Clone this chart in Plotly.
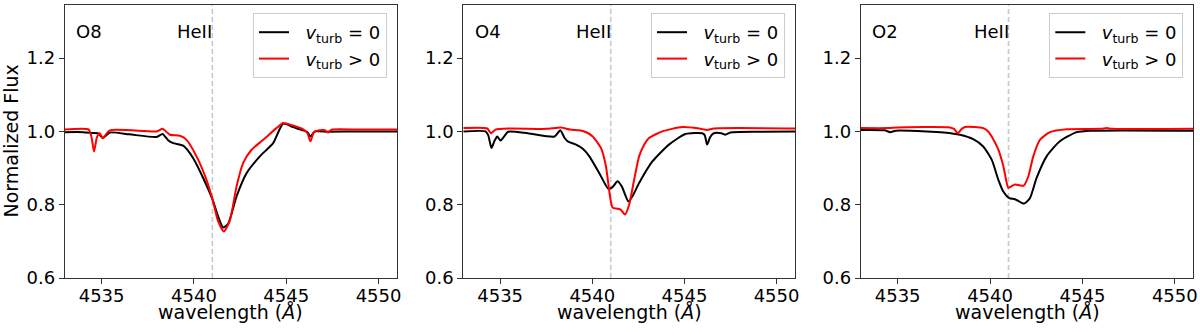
import plotly.graph_objects as go
from plotly.subplots import make_subplots

# wavelength grids (Angstrom) and normalized flux
o8_wave_0 = [4533.0, 4534.0, 4534.5, 4534.8, 4535.06, 4535.45, 4536.5, 4537.98, 4538.3,
             4538.6, 4538.88, 4539.42, 4539.96, 4540.5, 4541.01, 4541.31, 4541.58, 4541.85,
             4542.31, 4542.85, 4543.57, 4544.29, 4544.83, 4545.37, 4545.91, 4546.15,
             4546.31, 4546.55, 4547.3, 4549.0, 4551.0]
o8_flux_0 = [0.998, 0.998, 0.996, 0.995, 0.982, 0.997, 0.992, 0.985, 0.993,
             0.976, 0.968, 0.961, 0.927, 0.873, 0.814, 0.768, 0.738, 0.748,
             0.823, 0.886, 0.932, 0.968, 1.021, 1.012, 1.003, 0.998,
             0.986, 1.000, 0.999, 1.000, 1.000]
o8_wave_1 = [4533.0, 4534.3, 4534.45, 4534.59, 4534.75, 4534.9, 4535.06, 4535.45, 4537.98,
             4538.3, 4538.7, 4539.24, 4539.6, 4540.14, 4540.68, 4541.01, 4541.31, 4541.62,
             4541.94, 4542.31, 4542.67, 4543.12, 4543.75, 4544.47, 4544.83, 4545.37,
             4545.9, 4546.15, 4546.31, 4546.5, 4546.8, 4547.1, 4547.27, 4547.45, 4549.0,
             4551.0]
o8_flux_1 = [1.005, 1.005, 0.985, 0.945, 0.985, 0.995, 0.982, 1.003, 1.000,
             1.007, 0.991, 0.988, 0.977, 0.932, 0.868, 0.814, 0.755, 0.727,
             0.756, 0.850, 0.914, 0.950, 0.977, 1.009, 1.023, 1.016,
             1.006, 0.995, 0.973, 0.998, 1.003, 1.003, 0.997, 1.005, 1.005,
             1.005]

o4_wave_0 = [4533.0, 4534.2, 4534.35, 4534.53, 4534.7, 4534.84, 4535.02, 4535.2, 4535.43,
             4536.5, 4537.95, 4538.26, 4538.5, 4538.67, 4539.12, 4539.5, 4539.84, 4540.38,
             4540.88, 4541.1, 4541.37, 4541.6, 4541.96, 4542.2, 4542.54, 4543.26, 4544.16,
             4545.06, 4545.96, 4546.1, 4546.23, 4546.4, 4546.59, 4547.0, 4547.22, 4547.5,
             4549.0, 4551.0]
o4_flux_0 = [1.000, 1.000, 0.990, 0.955, 0.975, 0.986, 0.975, 0.985, 0.999,
             0.995, 0.986, 1.003, 0.982, 0.973, 0.964, 0.952, 0.932, 0.886,
             0.843, 0.848, 0.864, 0.850, 0.809, 0.825, 0.859, 0.918, 0.964,
             0.993, 0.995, 0.990, 0.964, 0.985, 0.995, 0.995, 0.991, 0.997,
             0.999, 1.000]
o4_wave_1 = [4533.0, 4534.3, 4534.5, 4534.75, 4535.5, 4537.5, 4538.3, 4538.8, 4539.3,
             4539.7, 4540.02, 4540.3, 4540.47, 4540.74, 4540.96, 4541.1, 4541.37, 4541.55,
             4541.77, 4542.0, 4542.27, 4542.54, 4542.8, 4543.08, 4543.8, 4544.88, 4545.8,
             4546.23, 4546.6, 4551.0]
o4_flux_1 = [1.009, 1.008, 0.995, 1.005, 1.008, 1.007, 1.011, 1.005, 1.003,
             0.997, 0.986, 0.968, 0.955, 0.905, 0.823, 0.792, 0.789, 0.786,
             0.773, 0.800, 0.868, 0.932, 0.962, 0.982, 1.000, 1.012, 1.008,
             1.004, 1.008, 1.008]

o2_wave_0 = [4533.0, 4534.3, 4534.59, 4534.9, 4536.57, 4537.5, 4538.37, 4539.09, 4539.63,
             4540.09, 4540.45, 4540.72, 4541.04, 4541.35, 4541.84, 4542.16, 4542.52, 4543.06,
             4543.78, 4544.69, 4545.5, 4551.0]
o2_flux_0 = [1.004, 1.003, 0.998, 1.002, 1.000, 0.997, 0.991, 0.979, 0.959,
             0.923, 0.868, 0.836, 0.818, 0.815, 0.803, 0.818, 0.873, 0.932,
             0.973, 0.998, 1.002, 1.002]
o2_wave_1 = [4533.0, 4534.5, 4535.0, 4537.83, 4538.05, 4538.25, 4538.45, 4538.64, 4539.63,
             4539.9, 4540.09, 4540.45, 4540.72, 4540.99, 4541.15, 4541.35, 4541.6, 4541.82,
             4542.07, 4542.34, 4542.7, 4543.24, 4544.15, 4546.0, 4546.31, 4546.6, 4551.0]
o2_flux_1 = [1.009, 1.009, 1.011, 1.011, 1.007, 0.995, 1.006, 1.012, 1.009,
             1.000, 0.986, 0.950, 0.905, 0.846, 0.850, 0.855, 0.853, 0.852,
             0.877, 0.932, 0.977, 0.998, 1.006, 1.007, 1.009, 1.007, 1.007]

panels = [
    ("O8", (o8_wave_0, o8_flux_0), (o8_wave_1, o8_flux_1)),
    ("O4", (o4_wave_0, o4_flux_0), (o4_wave_1, o4_flux_1)),
    ("O2", (o2_wave_0, o2_flux_0), (o2_wave_1, o2_flux_1)),
]
series_names = ["&nbsp;&nbsp;<i>v</i><sub>turb</sub> = 0", "&nbsp;&nbsp;<i>v</i><sub>turb</sub> > 0"]
series_colors = ["black", "red"]
x_ticks = [4535, 4540, 4545, 4550]
y_ticks = [0.6, 0.8, 1.0, 1.2]
heii_line = 4541.0
line_label = "HeII"

W, H = 1200, 336
FONT = "DejaVu Sans"
FS = 18

x_px = [(64.7, 397.0), (463.3, 795.0), (860.7, 1193.3)]
y_px = (5.0, 278.0)

fig = make_subplots(rows=1, cols=3)

for i, (label, *curves) in enumerate(panels):
    legend_id = "legend" if i == 0 else f"legend{i + 1}"
    for (wave, flux), name, color in zip(curves, series_names, series_colors):
        fig.add_trace(
            go.Scatter(x=wave, y=flux, mode="lines", name=name,
                       line=dict(color=color, width=2, shape="spline", smoothing=0.6),
                       legend=legend_id),
            row=1, col=i + 1,
        )
    x0, x1 = x_px[i]
    ax = "" if i == 0 else str(i + 1)
    fig.update_xaxes(domain=[x0 / W, x1 / W], range=[4533, 4551], tickvals=x_ticks,
                     row=1, col=i + 1)
    fig.update_yaxes(range=[0.6, 1.345], tickvals=y_ticks, tickformat=".1f", row=1, col=i + 1)
    fig.add_shape(type="line", xref=f"x{ax}", yref=f"y{ax} domain", x0=heii_line, x1=heii_line,
                  y0=0, y1=1, line=dict(color="#c8c8c8", width=1.6, dash="5px,3px"), layer="below")
    fig.add_annotation(xref=f"x{ax}", yref=f"y{ax}", x=4533.5, y=1.25, text=label,
                       xanchor="left", yanchor="bottom", showarrow=False, yshift=-4)
    fig.add_annotation(xref=f"x{ax}", yref=f"y{ax}", x=4539.0, y=1.25, text=line_label,
                       xanchor="left", yanchor="bottom", showarrow=False, yshift=-4)
    fig.add_annotation(xref="paper", yref="paper", x=(x0 + x1) / 2 / W, y=1 - 312 / H,
                       text="wavelength (<i>Å</i>)", xanchor="center", yanchor="middle",
                       showarrow=False, font=dict(size=19))
    fig.update_layout({legend_id: dict(
        x=(x1 - 10) / W, y=1 - 13 / H, xanchor="right", yanchor="top",
        bordercolor="#cccccc", borderwidth=1, bgcolor="rgba(255,255,255,0.8)",
        font=dict(family=FONT, size=FS, color="black"),
    )})

fig.add_annotation(xref="paper", yref="paper", x=11 / W, y=1 - 141.5 / H,
                   text="Normalized Flux", textangle=-90, xanchor="center",
                   yanchor="middle", showarrow=False, font=dict(size=19))

fig.update_xaxes(showline=True, linecolor="#333333", linewidth=1, mirror=True,
                 ticks="outside", ticklen=5, tickcolor="#333333", showgrid=False,
                 zeroline=False, automargin=False, ticklabelstandoff=-4)
fig.update_yaxes(showline=True, linecolor="#333333", linewidth=1, mirror=True,
                 ticks="outside", ticklen=5, tickcolor="#333333", showgrid=False,
                 zeroline=False, automargin=False,
                 domain=[1 - y_px[1] / H, 1 - y_px[0] / H])

fig.update_layout(
    width=W, height=H,
    margin=dict(l=0, r=0, t=0, b=0, autoexpand=False),
    paper_bgcolor="white", plot_bgcolor="white",
    font=dict(family=FONT, size=FS, color="black"),
    showlegend=True,
)

# the default page body has an 8px margin; remove it so the figure fills the window
fig.write_html("out.html", config={"displayModeBar": False},
               post_script="document.body.style.margin = '0';")
